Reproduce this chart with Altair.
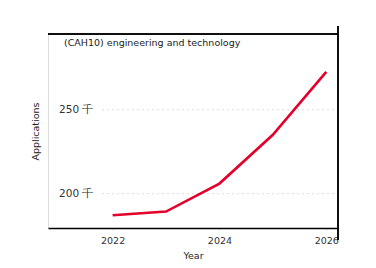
import altair as alt
import pandas as pd

years = [2022, 2023, 2024, 2025, 2026]
applications = [187100, 189300, 206000, 235100, 272600]
grid_values = [200000, 250000]
x_ticks = [2022, 2024, 2026]
subject = "(CAH10) engineering and technology"

df = pd.DataFrame({"Year": years, "Applications": applications})
grid_df = pd.DataFrame({"v": grid_values})
label_df = pd.DataFrame({"t": [subject]})

FONT = "DejaVu Sans"
FS = 9.5
RED = "#e4002b"

x_scale = alt.Scale(domain=[2020.79, 2026.22], nice=False, zero=False)
y_scale = alt.Scale(domain=[179500, 295200], nice=False, zero=False)

line = alt.Chart(df).mark_line(color=RED, strokeWidth=2.6, clip=False).encode(
    x=alt.X("Year:Q", scale=x_scale,
            axis=alt.Axis(values=x_ticks, format="d", title="Year",
                          grid=False, domainColor="black", domainWidth=1.5,
                          tickColor="#dddddd", tickSize=2, labelPadding=5,
                          labelColor="#333333", labelFontSize=FS, labelFont=FONT,
                          titleFont=FONT, titleFontSize=FS, titleFontWeight="normal",
                          titleColor="#222222", titlePadding=6)),
    y=alt.Y("Applications:Q", scale=y_scale,
            axis=alt.Axis(values=grid_values, grid=False, domain=False, ticks=False,
                          labelExpr="format(datum.value/1000, 'd') + ' 千'",
                          labelPadding=-45, labelColor="#333333", labelFontSize=10.5,
                          labelFont=FONT, title="Applications", titleFont=FONT,
                          titleFontSize=FS, titleFontWeight="normal", titleColor="#222222",
                          titleX=-13, titleY=97, titleAngle=-90, titleAlign="center",
                          titleBaseline="middle")),
)

grid = alt.Chart(grid_df).mark_rule(color="#dddddd", strokeWidth=1, strokeDash=[2, 3]).encode(
    y=alt.Y("v:Q", scale=y_scale),
    x=alt.value(54),
    x2=alt.value(290),
)

top_rule = alt.Chart(grid_df).mark_rule(color="black", strokeWidth=1.5).encode(
    x=alt.value(0), x2=alt.value(290), y=alt.value(0)
)
right_rule = alt.Chart(grid_df).mark_rule(color="black", strokeWidth=1.5).encode(
    x=alt.value(290), y=alt.value(-8), y2=alt.value(206)
)

label = alt.Chart(label_df).mark_text(
    align="left", baseline="middle", fontSize=FS, font=FONT, color="#222222"
).encode(text="t:N", x=alt.value(16), y=alt.value(9))

chart = alt.layer(grid, line, top_rule, right_rule, label).properties(
    width=290, height=194,
    autosize=alt.AutoSizeParams(type="none"),
    padding={"left": 48, "top": 34, "right": 38, "bottom": 40},
).configure_view(stroke=None).configure(background="white")

chart.save("out.html", embed_options={"renderer": "svg", "actions": False})
